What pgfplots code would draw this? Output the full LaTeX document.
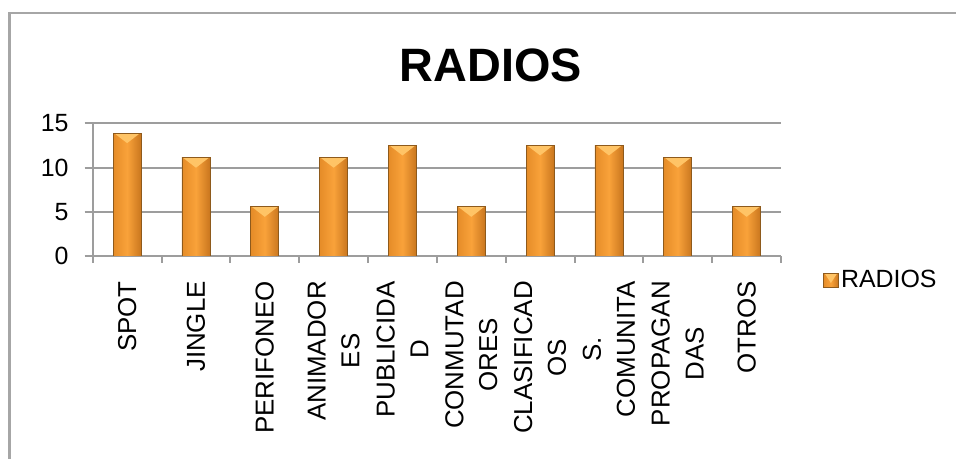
\documentclass[border=0pt]{standalone}
\usepackage{pgfplots}
\pgfplotsset{compat=1.18}
\usepackage{fontspec}
\setmainfont{Liberation Sans}

\definecolor{framegray}{HTML}{A6A6A6}
\definecolor{gridgray}{HTML}{9D9D9D}
\definecolor{barmid}{HTML}{F9A23A}
\definecolor{barleft}{HTML}{E58C28}
\definecolor{barright}{HTML}{C9761E}
\definecolor{barline}{HTML}{8E5A1C}
\definecolor{barlight}{HTML}{FFC466}

% light bevel triangle at the top of each bar (basic layer, so no style recursion)
\newcommand\bevelcap{%
  \pgfsetfillcolor{barlight}%
  \pgfpathmoveto{\pgfpointadd{\pgfpointanchor{path picture bounding box}{north west}}{\pgfpoint{1bp}{0bp}}}%
  \pgfpathlineto{\pgfpointadd{\pgfpointanchor{path picture bounding box}{north east}}{\pgfpoint{-1bp}{0bp}}}%
  \pgfpathlineto{\pgfpointadd{\pgfpointanchor{path picture bounding box}{north}}{\pgfpoint{0bp}{-10bp}}}%
  \pgfpathclose
  \pgfusepath{fill}%
}

\tikzset{
  bevelbar/.style={
    draw=barline, line width=0.8bp,
    left color=barleft, right color=barright, middle color=barmid,
    path picture={\bevelcap}
  }
}

\begin{document}
\begin{tikzpicture}
\path[use as bounding box] (0,0) rectangle (956bp,459bp);
\fill[white] (0,0) rectangle (956bp,459bp);
\draw[line width=2.7bp, framegray] (9.5bp,-10bp) -- (9.5bp,446bp) -- (970bp,446bp);
\node[anchor=base, inner sep=0pt, font=\fontsize{47}{52}\selectfont\bfseries] at (491bp,377bp) {RADIOS};
\begin{axis}[
  at={(92.7bp,203bp)}, anchor=south west,
  scale only axis, width=688.3bp, height=132.7bp,
  xmin=-0.5, xmax=9.5, ymin=0, ymax=15,
  axis x line*=bottom, axis y line*=left,
  axis line style={draw=gridgray, line width=2bp},
  ytick={0,5,10,15},
  ymajorgrids, grid style={gridgray, line width=2bp},
  tick align=outside,
  major tick length=8bp, minor tick length=7bp,
  ytick style={gridgray, line width=2bp},
  xtick={0,...,9},
  every major x tick/.style={draw=none},
  minor xtick={-0.5,0.5,...,9.5},
  every minor x tick/.style={gridgray, line width=2bp},
  xticklabels={SPOT, JINGLE, PERIFONEO, {ANIMADOR\\ES}, {PUBLICIDA\\D},
    {CONMUTAD\\ORES}, {CLASIFICAD\\OS}, {S.\\COMUNITA}, {PROPAGAN\\DAS}, OTROS},
  xticklabel style={rotate=90, anchor=east, align=center, inner sep=0pt,
    font=\fontsize{26}{34}\selectfont, xshift=-17bp},
  yticklabel style={anchor=east, inner sep=0pt, xshift=-16bp,
    font=\fontsize{25}{30}\selectfont},
  /pgf/number format/assume math mode=true,
  ybar, bar width=28bp, bar shift=0pt,
  legend style={at={(1.061,-0.181)}, anchor=west, draw=none, fill=none,
    inner sep=0pt, font=\fontsize{25}{30}\selectfont,
    nodes={inner sep=2.5bp}},
  legend image code/.code={
    \path[draw=barline, line width=0.4bp, left color=barleft, right color=barright, middle color=barmid]
      (0bp,-7bp) rectangle (15bp,7bp);
  },
]
% one plot per category so that every bar gets its own shading
\addplot[bevelbar] coordinates {(0,13.89)};
\addlegendentry{RADIOS}
\addplot[bevelbar, forget plot] coordinates {(1,11.11)};
\addplot[bevelbar, forget plot] coordinates {(2,5.56)};
\addplot[bevelbar, forget plot] coordinates {(3,11.11)};
\addplot[bevelbar, forget plot] coordinates {(4,12.50)};
\addplot[bevelbar, forget plot] coordinates {(5,5.56)};
\addplot[bevelbar, forget plot] coordinates {(6,12.50)};
\addplot[bevelbar, forget plot] coordinates {(7,12.50)};
\addplot[bevelbar, forget plot] coordinates {(8,11.11)};
\addplot[bevelbar, forget plot] coordinates {(9,5.56)};
\end{axis}
\end{tikzpicture}
\end{document}
